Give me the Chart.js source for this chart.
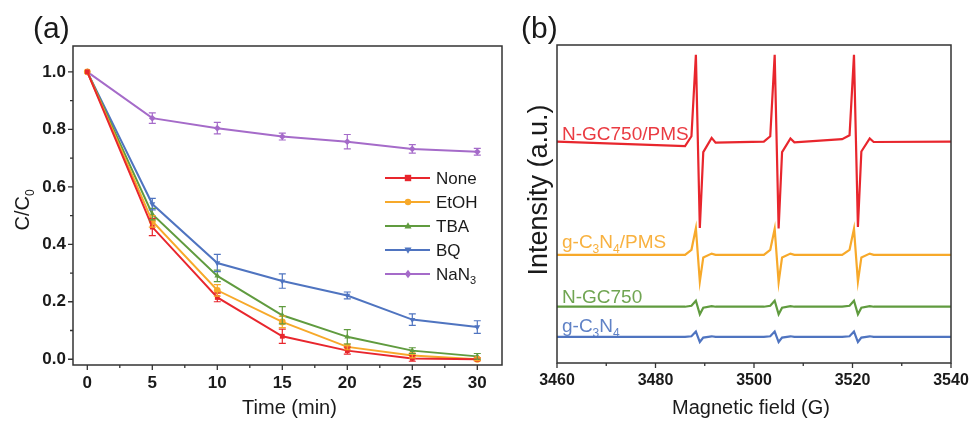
<!DOCTYPE html>
<html lang="en">
<head>
<meta charset="UTF-8" />
<title>Quenching tests and EPR spectra</title>
<script src="https://cdn.jsdelivr.net/npm/chart.js"></script>
<style>
  body {
    margin: 0;
    background: #fff;
    width: 972px;
    height: 421px;
    overflow: hidden;
    position: relative;
  }
  .panel { position: absolute; top: 0; }
  #wrapA { left: 0; width: 520px; height: 421px; }
  #wrapB { left: 520px; width: 452px; height: 421px; }
</style>
</head>
<body>
<div class="panel" id="wrapA"><canvas id="chartA" width="520" height="421"></canvas></div>
<div class="panel" id="wrapB"><canvas id="chartB" width="452" height="421"></canvas></div>

<script>
  // ---- (a) quenching data, C/C0 vs time ----
  const timeMin = [0, 5, 10, 15, 20, 25, 30];
  const cNone = [1.0, 0.46, 0.215, 0.08, 0.03, 0.003, 0.0];
  const cEtOH = [1.0, 0.48, 0.24, 0.13, 0.043, 0.013, 0.0];
  const cTBA  = [1.0, 0.505, 0.29, 0.153, 0.078, 0.03, 0.01];
  const cBQ   = [1.0, 0.54, 0.335, 0.272, 0.222, 0.138, 0.112];
  const cNaN3 = [1.0, 0.839, 0.804, 0.775, 0.757, 0.732, 0.722];

  const eNone = [0, 0.03, 0.015, 0.025, 0.012, 0.01, 0.005];
  const eEtOH = [0, 0.02, 0.02, 0.02, 0.01, 0.008, 0.005];
  const eTBA  = [0, 0.02, 0.02, 0.03, 0.025, 0.01, 0.01];
  const eBQ   = [0, 0.02, 0.03, 0.025, 0.012, 0.02, 0.022];
  const eNaN3 = [0, 0.018, 0.02, 0.012, 0.025, 0.015, 0.012];

  const xTicksA = [0, 5, 10, 15, 20, 25, 30];
  const xMinorA = [2.5, 7.5, 12.5, 17.5, 22.5, 27.5];
  const yTicksA = [0, 0.2, 0.4, 0.6, 0.8, 1.0];
  const yMinorA = [0.1, 0.3, 0.5, 0.7, 0.9];

  // ---- (b) EPR spectra ----
  const fieldG = [3460,
    3486.0, 3487.3, 3488.2, 3489.0, 3489.7, 3491.4, 3492.2,
    3502.0, 3503.3, 3504.2, 3505.0, 3505.7, 3507.4, 3508.2,
    3517.9, 3519.4, 3520.3, 3521.1, 3521.8, 3523.5, 3524.3,
    3540];
  const iNGCPMS = [69.6,
    68.2, 71.3, 96.9, 42.5, 66.3, 70.8, 69.3,
    69.6, 71.3, 96.9, 42.3, 66.3, 70.6, 69.4,
    70.4, 71.6, 96.9, 42.8, 66.5, 70.6, 69.5,
    69.6];
  const iGCNPMS = [34.0,
    34.0, 35.6, 42.4, 25.6, 33.2, 34.4, 34.0,
    34.0, 35.6, 42.2, 25.4, 33.2, 34.4, 34.0,
    34.0, 35.6, 42.2, 25.6, 33.2, 34.4, 34.0,
    34.0];
  const iNGC = [17.7,
    17.7, 18.0, 19.6, 15.3, 17.4, 17.9, 17.7,
    17.7, 18.0, 19.6, 15.3, 17.4, 17.9, 17.7,
    17.7, 18.0, 19.6, 15.3, 17.4, 17.9, 17.7,
    17.7];
  const iGCN = [8.2,
    8.2, 8.4, 9.9, 6.6, 8.0, 8.4, 8.2,
    8.2, 8.4, 9.9, 6.6, 8.0, 8.4, 8.2,
    8.2, 8.4, 9.9, 6.6, 8.0, 8.4, 8.2,
    8.2];

  const xTicksB = [3460, 3480, 3500, 3520, 3540];
  const xMinorB = [3470, 3490, 3510, 3530];

  const FONT = "'Liberation Sans', Arial, Helvetica, sans-serif";
  const AXIS = '#333';
  Chart.defaults.font.family = FONT;
  Chart.defaults.color = '#1a1a1a';

  const RED = '#e8262d', ORANGE = '#f7a92a', GREEN = '#609b3f', BLUE = '#4f74c0', PURPLE = '#a56bc9';

  // text with subscripts: parts = [[text, isSub], ...]
  function richWidth(ctx, parts, size, weight) {
    let w = 0;
    parts.forEach(([t, sub]) => {
      ctx.font = `${weight} ${sub ? Math.round(size * 0.62) : size}px ${FONT}`;
      w += ctx.measureText(t).width;
    });
    return w;
  }
  function drawRich(ctx, parts, x, y, size, color, weight = 'normal') {
    ctx.fillStyle = color;
    ctx.textBaseline = 'alphabetic';
    ctx.textAlign = 'left';
    parts.forEach(([t, sub]) => {
      ctx.font = `${weight} ${sub ? Math.round(size * 0.62) : size}px ${FONT}`;
      ctx.fillText(t, x, sub ? y + size * 0.25 : y);
      x += ctx.measureText(t).width;
    });
  }
  function drawRichRotated(ctx, parts, cx, cy, size, color) {
    const w = richWidth(ctx, parts, size, 'normal');
    ctx.save();
    ctx.translate(cx, cy);
    ctx.rotate(-Math.PI / 2);
    drawRich(ctx, parts, -w / 2, size * 0.36, size, color);
    ctx.restore();
  }

  function drawMarker(ctx, style, x, y, r, color) {
    ctx.fillStyle = color;
    ctx.beginPath();
    if (style === 'rect') {
      ctx.rect(x - r, y - r, 2 * r, 2 * r);
    } else if (style === 'circle') {
      ctx.arc(x, y, r, 0, Math.PI * 2);
    } else if (style === 'tri') {
      ctx.moveTo(x, y - r * 1.2); ctx.lineTo(x + r * 1.1, y + r * 0.8); ctx.lineTo(x - r * 1.1, y + r * 0.8);
    } else if (style === 'triDown') {
      ctx.moveTo(x, y + r * 1.2); ctx.lineTo(x + r * 1.1, y - r * 0.8); ctx.lineTo(x - r * 1.1, y - r * 0.8);
    } else {
      ctx.moveTo(x, y - r * 1.3); ctx.lineTo(x + r, y); ctx.lineTo(x, y + r * 1.3); ctx.lineTo(x - r, y);
    }
    ctx.closePath();
    ctx.fill();
  }

  // frame + outward ticks drawn from the scales
  function frameTicks(chart, major, minor, yMajor, yMinor) {
    const { ctx, chartArea: a, scales } = chart;
    ctx.save();
    ctx.strokeStyle = AXIS;
    ctx.lineWidth = 1.5;
    ctx.strokeRect(a.left, a.top, a.right - a.left, a.bottom - a.top);
    ctx.lineWidth = 1.3;
    ctx.beginPath();
    major.forEach(v => { const px = scales.x.getPixelForValue(v); ctx.moveTo(px, a.bottom); ctx.lineTo(px, a.bottom + 5); });
    minor.forEach(v => { const px = scales.x.getPixelForValue(v); ctx.moveTo(px, a.bottom); ctx.lineTo(px, a.bottom + 3); });
    yMajor.forEach(v => { const py = scales.y.getPixelForValue(v); ctx.moveTo(a.left, py); ctx.lineTo(a.left - 5, py); });
    yMinor.forEach(v => { const py = scales.y.getPixelForValue(v); ctx.moveTo(a.left, py); ctx.lineTo(a.left - 3, py); });
    ctx.stroke();
    ctx.restore();
  }

  const seriesA = [
    { label: [['None', 0]], vals: cNone, errs: eNone, color: RED, marker: 'rect' },
    { label: [['EtOH', 0]], vals: cEtOH, errs: eEtOH, color: ORANGE, marker: 'circle' },
    { label: [['TBA', 0]], vals: cTBA, errs: eTBA, color: GREEN, marker: 'tri' },
    { label: [['BQ', 0]], vals: cBQ, errs: eBQ, color: BLUE, marker: 'triDown' },
    { label: [['NaN', 0], ['3', 1]], vals: cNaN3, errs: eNaN3, color: PURPLE, marker: 'diamond' }
  ];
  const chartStyle = { rect: 'rect', circle: 'circle', tri: 'triangle', triDown: 'triangle', diamond: 'rectRot' };

  const plotA = {
    id: 'plotA',
    afterDatasetsDraw(chart) {
      const { ctx, scales } = chart;
      ctx.save();
      ctx.lineWidth = 1.2;
      chart.data.datasets.forEach((ds, i) => {
        const meta = chart.getDatasetMeta(i);
        ctx.strokeStyle = ds.borderColor;
        ctx.beginPath();
        ds.errs.forEach((e, j) => {
          if (!e) return;
          const x = meta.data[j].x;
          const y1 = scales.y.getPixelForValue(ds.data[j].y + e);
          const y2 = scales.y.getPixelForValue(ds.data[j].y - e);
          ctx.moveTo(x, y1); ctx.lineTo(x, y2);
          ctx.moveTo(x - 3.5, y1); ctx.lineTo(x + 3.5, y1);
          ctx.moveTo(x - 3.5, y2); ctx.lineTo(x + 3.5, y2);
        });
        ctx.stroke();
      });
      ctx.restore();
    },
    afterDraw(chart) {
      const ctx = chart.ctx;
      frameTicks(chart, xTicksA, xMinorA, yTicksA, yMinorA);
      ctx.save();
      // legend
      seriesA.forEach((s, i) => {
        const y = 178 + i * 24;
        ctx.strokeStyle = s.color;
        ctx.lineWidth = 2;
        ctx.beginPath(); ctx.moveTo(385, y); ctx.lineTo(430, y); ctx.stroke();
        drawMarker(ctx, s.marker, 408, y, 3.2, s.color);
        drawRich(ctx, s.label, 436, y + 6, 17, '#1a1a1a');
      });
      // titles
      drawRich(ctx, [['(a)', 0]], 33, 38, 30, '#1a1a1a');
      ctx.font = `20px ${FONT}`;
      ctx.fillStyle = '#1a1a1a';
      ctx.textAlign = 'center';
      ctx.textBaseline = 'alphabetic';
      ctx.fillText('Time (min)', (chart.chartArea.left + chart.chartArea.right) / 2 + 2, 414);
      drawRichRotated(ctx, [['C/C', 0], ['0', 1]], 22, 210, 20, '#1a1a1a');
      ctx.restore();
    }
  };

  new Chart(document.getElementById('chartA'), {
    type: 'line',
    data: {
      datasets: seriesA.map(s => ({
        label: s.label.map(p => p[0]).join(''),
        data: timeMin.map((t, i) => ({ x: t, y: s.vals[i] })),
        errs: s.errs,
        borderColor: s.color,
        backgroundColor: s.color,
        borderWidth: 2,
        pointStyle: chartStyle[s.marker],
        rotation: s.marker === 'triDown' ? 180 : 0,
        pointRadius: 3.4,
        pointBorderWidth: 0,
        tension: 0
      }))
    },
    options: {
      responsive: false,
      animation: false,
      layout: { padding: { top: 46, right: 18, left: 0, bottom: 0 } },
      plugins: { legend: { display: false }, tooltip: { enabled: false } },
      scales: {
        x: {
          type: 'linear', min: -1.1, max: 31.9,
          afterBuildTicks: s => { s.ticks = xTicksA.map(v => ({ value: v })); },
          afterFit: s => { s.height = 56; },
          grid: { display: false, drawTicks: false },
          border: { display: false },
          ticks: { padding: 8, font: { size: 17, weight: 'bold' }, maxRotation: 0, autoSkip: false }
        },
        y: {
          min: -0.02, max: 1.09,
          afterBuildTicks: s => { s.ticks = yTicksA.map(v => ({ value: v })); },
          afterFit: s => { s.width = 73; },
          grid: { display: false, drawTicks: false },
          border: { display: false },
          ticks: { padding: 7, font: { size: 17, weight: 'bold' }, callback: v => v.toFixed(1) }
        }
      }
    },
    plugins: [plotA]
  });

  const seriesB = [
    { label: [['N-GC750/PMS', 0]], vals: iNGCPMS, color: RED, labelY: 140 },
    { label: [['g-C', 0], ['3', 1], ['N', 0], ['4', 1], ['/PMS', 0]], vals: iGCNPMS, color: ORANGE, labelY: 248 },
    { label: [['N-GC750', 0]], vals: iNGC, color: GREEN, labelY: 303 },
    { label: [['g-C', 0], ['3', 1], ['N', 0], ['4', 1]], vals: iGCN, color: BLUE, labelY: 332 }
  ];

  const plotB = {
    id: 'plotB',
    afterDraw(chart) {
      const ctx = chart.ctx;
      frameTicks(chart, xTicksB, xMinorB, [], []);
      ctx.save();
      seriesB.forEach(s => {
        ctx.globalAlpha = 0.9;
        drawRich(ctx, s.label, 42, s.labelY, 19, s.color);
      });
      ctx.globalAlpha = 1;
      drawRich(ctx, [['(b)', 0]], 1, 38, 30, '#1a1a1a');
      ctx.font = `20px ${FONT}`;
      ctx.fillStyle = '#1a1a1a';
      ctx.textAlign = 'center';
      ctx.textBaseline = 'alphabetic';
      ctx.fillText('Magnetic field (G)', (chart.chartArea.left + chart.chartArea.right) / 2 - 3, 414);
      drawRichRotated(ctx, [['Intensity (a.u.)', 0]], 17, 190, 27, '#1a1a1a');
      ctx.restore();
    }
  };

  new Chart(document.getElementById('chartB'), {
    type: 'line',
    data: {
      datasets: seriesB.map(s => ({
        label: s.label.map(p => p[0]).join(''),
        data: fieldG.map((g, i) => ({ x: g, y: s.vals[i] })),
        borderColor: s.color,
        borderWidth: 2.2,
        pointRadius: 0,
        tension: 0
      }))
    },
    options: {
      responsive: false,
      animation: false,
      layout: { padding: { top: 45, right: 21, left: 0, bottom: 0 } },
      plugins: { legend: { display: false }, tooltip: { enabled: false } },
      scales: {
        x: {
          type: 'linear', min: 3460, max: 3540,
          afterBuildTicks: s => { s.ticks = xTicksB.map(v => ({ value: v })); },
          afterFit: s => { s.height = 58; s.paddingLeft = 0; s.paddingRight = 0; },
          grid: { display: false, drawTicks: false },
          border: { display: false },
          ticks: { padding: 8, font: { size: 16, weight: 'bold' }, maxRotation: 0, autoSkip: false, callback: v => String(v) }
        },
        y: {
          min: 0, max: 100,
          afterFit: s => { s.width = 37; },
          grid: { display: false, drawTicks: false },
          border: { display: false },
          ticks: { display: false }
        }
      }
    },
    plugins: [plotB]
  });
</script>
</body>
</html>
